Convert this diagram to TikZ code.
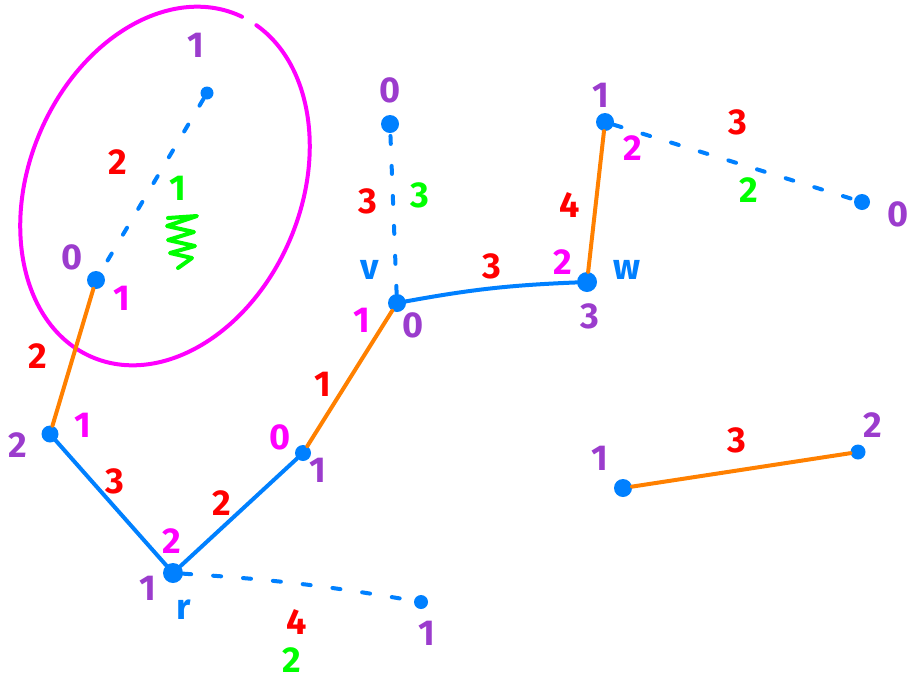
\documentclass[tikz,border=0pt]{standalone}
\usepackage{fontspec}
\setmainfont{Fira Sans}
\definecolor{nblue}{RGB}{0,128,255}
\definecolor{nred}{RGB}{255,0,0}
\definecolor{npurple}{RGB}{155,60,205}
\definecolor{nmag}{RGB}{255,0,255}
\definecolor{ngreen}{RGB}{0,255,0}
\definecolor{norange}{RGB}{255,128,0}
\tikzset{
  dot/.style={circle, fill=nblue, inner sep=0pt, minimum size=#1},
  dot/.default=17pt,
  lab/.style={inner sep=0pt, font=\fontsize{36}{36}\selectfont\bfseries},
  wr/.style={lab, text=nred},
  wp/.style={lab, text=npurple},
  wm/.style={lab, text=nmag},
  wg/.style={lab, text=ngreen},
  wb/.style={lab, text=nblue},
  solidblue/.style={draw=nblue, line width=4pt, line cap=round},
  orangeedge/.style={draw=norange, line width=4pt, line cap=round},
  dashblue/.style={draw=nblue, line width=4pt, line cap=round, dash pattern=on 8pt off 22pt},
}
\begin{document}
\begin{tikzpicture}[x=1pt,y=-1pt]
\useasboundingbox (0,0) rectangle (912,681);
% magenta ellipse with a small gap at the top
\begin{scope}[shift={(165,186)}, rotate=67]
  \draw[nmag, line width=4pt, line cap=round] (-2:186pt and 136pt) arc[start angle=-2, end angle=351, x radius=186pt, y radius=136pt];
\end{scope}
% vertices
\node[dot=13pt] (A) at (207,93) {};
\node[dot=18pt] (B) at (96,280) {};
\node[dot=17pt] (C) at (50,434) {};
\node[dot=20pt] (R) at (173,573) {};
\node[dot=16pt] (D) at (303,453) {};
\node[dot=18pt] (V) at (397,303) {};
\node[dot=18pt] (T) at (390,124) {};
\node[dot=20pt] (W) at (587,282) {};
\node[dot=18pt] (X) at (605,122) {};
\node[dot=16pt] (Y) at (862,202) {};
\node[dot=14pt] (Z) at (421,602) {};
\node[dot=18pt] (P) at (623,488) {};
\node[dot=15pt] (Q) at (858,452) {};
% edges
\draw[dashblue] (A) -- (B);
\draw[orangeedge] (B) -- (C);
\draw[solidblue] (C) -- (R);
\draw[solidblue] (R) -- (D);
\draw[orangeedge] (D) -- (V);
\draw[dashblue] (V) -- (T);
\draw[solidblue] (V) to[bend left=4] (W);
\draw[orangeedge] (W) -- (X);
\draw[dashblue] (X) -- (Y);
\draw[dashblue] (R) to[bend left=3] (Z);
\draw[orangeedge] (P) -- (Q);
% weights (red) and green labels
\node[wr] (eAB) at (118,162) {2};
\node[wg] (gAB) at (178,188) {1};
\draw[ngreen, line width=4pt, line cap=round, line join=round]
  (168,218) -- (197,216) -- (167,226) -- (194,232) -- (168,240) -- (195,246) -- (170,253) -- (192,258) -- (178,268);
\node[wr] (eBC) at (38,356) {2};
\node[wr] (eCR) at (115,481) {3};
\node[wr] (eRD) at (222,503) {2};
\node[wr] (eDV) at (323,384) {1};
\node[wr] (eVT) at (368,201) {3};
\node[wg] (gVT) at (420,195) {3};
\node[wr] (eVW) at (492,266) {3};
\node[wr] (eWX) at (570,205) {4};
\node[wr] (eXY) at (738,122) {3};
\node[wg] (gXY) at (749,190) {2};
\node[wr] (eRZ) at (297,622) {4};
\node[wg] (gRZ) at (292,660) {2};
\node[wr] (ePQ) at (737,440) {3};
% vertex labels
\node[wp] (lA) at (196,45) {1};
\node[wp] (lB1) at (72,257) {0};
\node[wm] (lB2) at (122,298) {1};
\node[wp] (lC1) at (18,445) {2};
\node[wm] (lC2) at (83,425) {1};
\node[wm] (lR1) at (172,541) {2};
\node[wp] (lR2) at (148,588) {1};
\node[wb] (lR3) at (184,610) {r};
\node[wm] (lD1) at (280,437) {0};
\node[wp] (lD2) at (318,470) {1};
\node[wb] (lV1) at (370,270) {v};
\node[wm] (lV2) at (362,320) {1};
\node[wp] (lV3) at (413,325) {0};
\node[wp] (lT) at (390,90) {0};
\node[wm] (lW1) at (563,262) {2};
\node[wb] (lW2) at (627,270) {w};
\node[wp] (lW3) at (590,316) {3};
\node[wp] (lX1) at (601,95) {1};
\node[wm] (lX2) at (633,148) {2};
\node[wp] (lY) at (898,214) {0};
\node[wp] (lZ) at (427,633) {1};
\node[wp] (lP) at (600,458) {1};
\node[wp] (lQ) at (873,425) {2};
\end{tikzpicture}
\end{document}
